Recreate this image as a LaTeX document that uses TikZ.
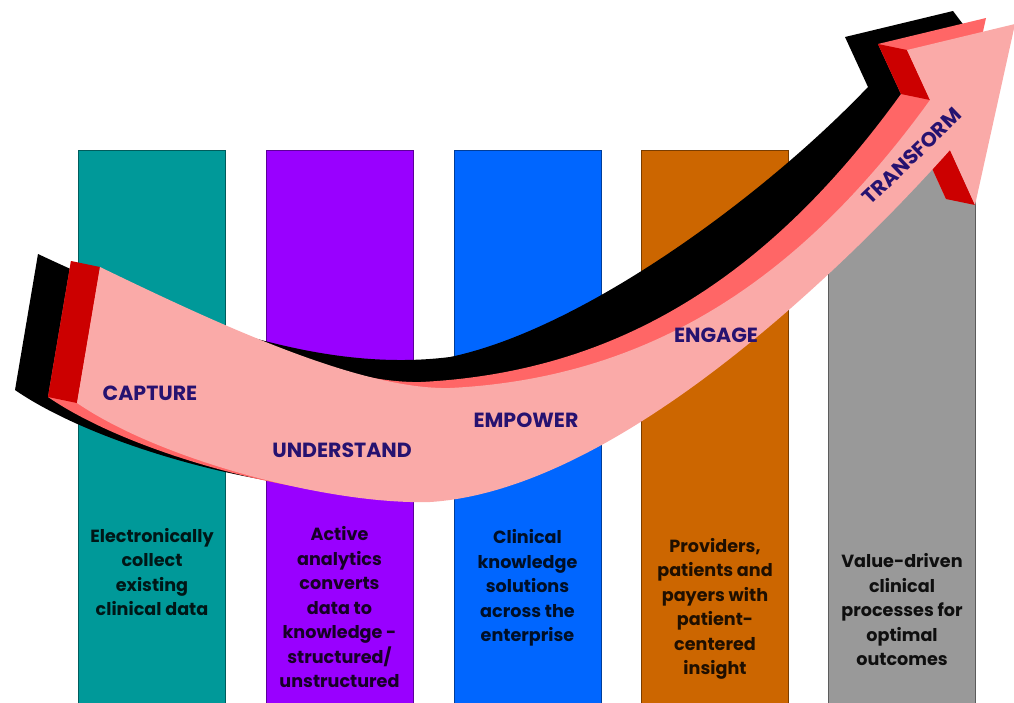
\documentclass[tikz,border=0pt]{standalone}
\usepackage{fontspec}
\setmainfont{Poppins}
\usetikzlibrary{positioning}

\definecolor{colteal}{RGB}{0,153,153}
\definecolor{colpurple}{RGB}{153,0,255}
\definecolor{colblue}{RGB}{0,102,255}
\definecolor{colorange}{RGB}{204,102,0}
\definecolor{colgray}{RGB}{153,153,153}
\definecolor{pinkface}{RGB}{250,170,168}
\definecolor{salmonside}{RGB}{255,102,102}
\definecolor{redside}{RGB}{204,0,0}
\definecolor{stageblue}{RGB}{38,18,112}

% outline of the big curved arrow (top face)
\newcommand{\arrowbody}{(100,267) .. controls (220,325) and (360,390) .. (450,388)
  .. controls (650,378) and (800,280) .. (930,100) -- (907,50) -- (1015,24)
  -- (975,205) -- (950,150) .. controls (850,262) and (620,490) .. (430,502)
  .. controls (330,505) and (160,460) .. (77,403) -- cycle}

\begin{document}
\begin{tikzpicture}[
  x=1pt, y=-1pt,
  column/.style={
    rectangle,
    minimum width=147pt,
    minimum height=560pt,
    line width=0.8pt,
    inner sep=0pt
  },
  coltext/.style={
    align=center,
    font=\bfseries\fontsize{17.6}{24.5}\selectfont
  },
  stage/.style={
    text=stageblue,
    font=\bfseries\fontsize{20.5}{22}\selectfont
  }
  ]
  \useasboundingbox (0,0) rectangle (1014,702);
  \fill[white] (0,0) rectangle (1014,702);
  \clip (0,0) rectangle (1014,702);

  % the five columns
  \node [column, fill=colteal, draw=colteal!60!black] (capturecol) at (152,430) {};
  \node [column, fill=colpurple, draw=colpurple!60!black] (understandcol) at (339.5,430) {};
  \node [column, fill=colblue, draw=colblue!60!black] (empowercol) at (527.5,430) {};
  \node [column, fill=colorange, draw=colorange!60!black] (engagecol) at (715,430) {};
  \node [column, fill=colgray, draw=colgray!60!black] (transformcol) at (902,430) {};

  \node [coltext, text=black!85!colteal] (capturetxt) at (152,572)
    {Electronically\\collect\\existing\\clinical data};
  \node [coltext, text=black!85!colpurple] (understandtxt) at (339.5,607.5)
    {Active\\analytics\\converts\\data to\\knowledge -\\structured/\\unstructured};
  \node [coltext, text=black!85!colblue] (empowertxt) at (527.5,588)
    {Clinical\\knowledge\\solutions\\across the\\enterprise};
  \node [coltext, text=black!85!colorange] (engagetxt) at (715,609)
    {Providers,\\patients and\\payers with\\patient-\\centered\\insight};
  \node [coltext, text=black!90!colgray] (transformtxt) at (902,610)
    {Value-driven\\clinical\\processes for\\optimal\\outcomes};

  % the arrow: shadow, sides, then the top face
  \fill[black] (38,254) .. controls (200,330) and (330,372) .. (450,357)
    .. controls (580,330) and (760,200) .. (868,87) -- (845,37) -- (953,11)
    -- (990,60) -- (888,137) .. controls (788,249) and (558,477) .. (368,489)
    .. controls (268,492) and (98,447) .. (15,390) -- cycle;
  \begin{scope}[shift={(-29,-6)}]
    \fill[salmonside] \arrowbody;
  \end{scope}
  \fill[redside] (100,267) -- (77,403) -- (48,397) -- (71,261) -- cycle;
  \fill[redside] (907,50) -- (930,100) -- (901,94) -- (878,44) -- cycle;
  \fill[redside] (950,150) -- (975,205) -- (946,199) -- (921,144) -- cycle;
  \fill[pinkface] \arrowbody;

  \node [stage] (capture) at (150,393) {CAPTURE};
  \node [stage] (understand) at (342,450) {UNDERSTAND};
  \node [stage] (empower) at (526,420) {EMPOWER};
  \node [stage] (engage) at (716,335) {ENGAGE};
  \node [stage, rotate=44] (transform) at (912,156) {TRANSFORM};
\end{tikzpicture}
\end{document}
